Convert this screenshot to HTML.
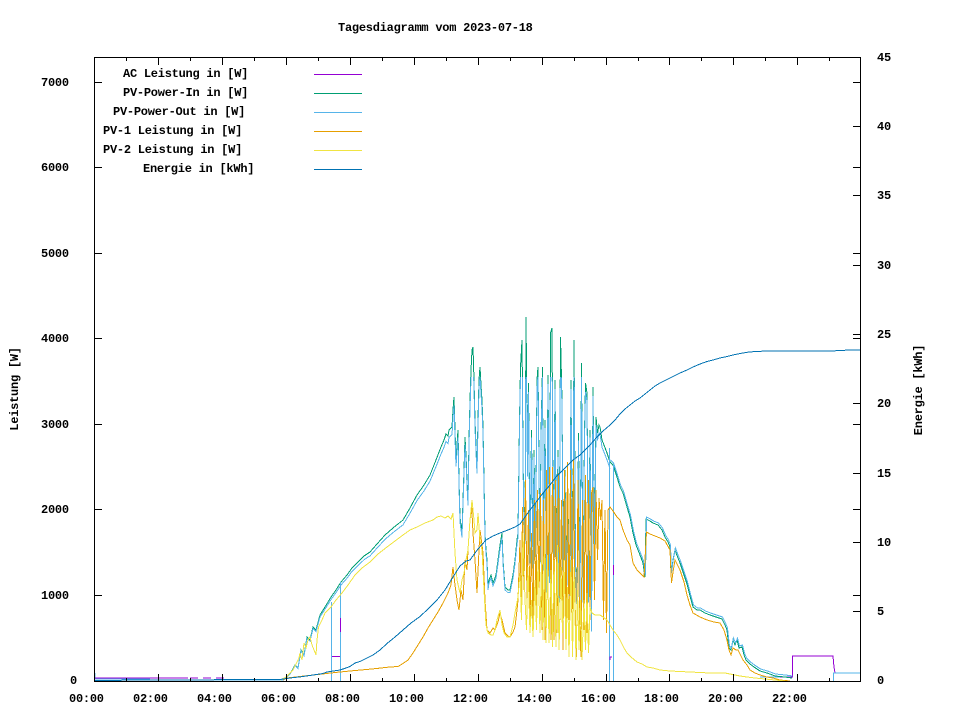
<!DOCTYPE html>
<html><head><meta charset="utf-8"><style>
html,body{margin:0;padding:0;background:#fff;}
svg{display:block;}
text{font-family:"Liberation Mono","DejaVu Sans Mono",monospace;font-weight:bold;font-size:12px;letter-spacing:-0.25px;fill:#000;}
</style></head><body>
<svg width="960" height="720" viewBox="0 0 960 720" xmlns="http://www.w3.org/2000/svg">
<rect width="960" height="720" fill="#fff"/>
<defs><clipPath id="cap"><rect x="94" y="377" width="767" height="305"/></clipPath></defs>
<g fill="none" stroke-width="1" shape-rendering="crispEdges">
<!-- night -->
<polyline stroke="#56b4e9" points="95,673 95,679 150,679"/>
<polyline stroke="#9400d3" points="95,678 188,678"/>
<polyline stroke="#9400d3" stroke-dasharray="8,5" points="190,678 224,678"/>
<polyline stroke="#56b4e9" points="148,680 284,680"/>
<!-- AC night step -->
<polyline stroke="#56b4e9" points="760,677 792,677"/>
<polyline stroke="#9400d3" points="780,677 792.5,677 792.5,656 833,656 834,667 835,673 848,673"/>
<polyline stroke="#56b4e9" points="833.5,681 833.5,673 860,673"/>
<!-- PV-Power-In green A -->
<polyline stroke="#009e73" points="280,680 286,678 290,674 295,665 298,668 301,650 304,655 307,637 310,640 313,627 316,630 320,615 325,607 331,597 336,590 341,582 347,575 352,568 358,562 364,556 370,552 377,544 385,535 393,528 403,520 410,508 417,495 424,485 430,475 436,460 441,447 444,440 446,434 448,436 449,430 451,428 452,427 453,410 454,397 455,430 456,460 457,445 458,430 459,480 460,517 461,525 462,533 463,500 464,470 465,437 466,455 467,480 468,500 469,440 470,400 471,370 472,350 473,347 474,380 475,420 476,445 477,467 478,420 479,380 480,367 481,385 482,400 483,427 484,480 485,533 486,550 487,560 488,587 489,580 491,575 493,583 495,578 496,575 498,560 500,545 502,533 503,560 505,587 508,590 510,590 512,580 513,575 515,560 517,540 518,533 519.5,420 520.5,367 522,340 523.5,500 525,540 526,317 527.5,470 528.5,383 530,560 531.5,430 533,565 534,450 535.5,553 537,380 538,367 540,560 541,433 542.5,367 543.5,567 545,420 546.5,590 548,375 549.5,580 550.5,333 552,328 553.5,590 555,380 556.5,567 558,450 559,600 560.5,337 562,400 563.5,600 565,470 566.5,600 568,500 569.5,610 571,380 572.5,600 574,340 575.5,560 577,610 578.5,433 580,600 581.5,363 583,600 584.5,433 585.5,383 587,393 588.5,600 590,430 591.5,630 593,387 594.5,560 596,417 597.5,433 599,425 600,427 601,433 602,440 604,445 607,453 610,462"/>
<!-- green B -->
<polyline stroke="#009e73" points="610,462 613,465 617,477 620,487 623,493 627,507 630,517 633,533 636,545 640,555 643,563 645,577 646,519 650,521 653,523 658,525 662,530 665,537 668,542 670,547 671,575 673,560 675,550 678,558 680,563 684,575 687,584 690,596 693,607 697,610 700,610 705,613 710,615 716,617 722,619 725,625 727,630 729,648 731,650 733,640 735,645 737,640 739,648 742,647 744,655 746,660 750,664 754,667 760,671 767,673 775,676 785,677 792,678"/>
<!-- PV-Power-Out blue -->
<g clip-path="url(#cap)"><polyline stroke="#56b4e9" transform="matrix(1 0 0 0.97 0 20.43)" points="280,680 286,678 290,674 295,665 298,668 301,650 304,655 307,637 310,640 313,627 316,630 320,615 325,607 331,597 336,590 341,582 347,575 352,568 358,562 364,556 370,552 377,544 385,535 393,528 403,520 410,508 417,495 424,485 430,475 436,460 441,447 444,440 446,434 448,436 449,430 451,428 452,427 453,410 454,397 455,430 456,460 457,445 458,430 459,480 460,517 461,525 462,533 463,500 464,470 465,437 466,455 467,480 468,500 469,440 470,400 471,370 472,350 473,347 474,380 475,420 476,445 477,467 478,420 479,380 480,367 481,385 482,400 483,427 484,480 485,533 486,550 487,560 488,587 489,580 491,575 493,583 495,578 496,575 498,560 500,545 502,533 503,560 505,587 508,590 510,590 512,580 513,575 515,560 517,540 518,533 519.5,420 520.5,367 522,340 523.5,500 525,540 526,317 527.5,470 528.5,383 530,560 531.5,430 533,565 534,450 535.5,553 537,380 538,367 540,560 541,433 542.5,367 543.5,567 545,420 546.5,590 548,375 549.5,580 550.5,333 552,328 553.5,590 555,380 556.5,567 558,450 559,600 560.5,337 562,400 563.5,600 565,470 566.5,600 568,500 569.5,610 571,380 572.5,600 574,340 575.5,560 577,610 578.5,433 580,600 581.5,363 583,600 584.5,433 585.5,383 587,393 588.5,600 590,430 591.5,630 593,387 594.5,560 596,417 597.5,433 599,425 600,427 601,433 602,440 604,445 607,453 610,462"/></g>
<polyline stroke="#56b4e9" transform="translate(0.5,-2)" points="610,462 613,465 617,477 620,487 623,493 627,507 630,517 633,533 636,545 640,555 643,563 645,577 646,519 650,521 653,523 658,525 662,530 665,537 668,542 670,547 671,575 673,560 675,550 678,558 680,563 684,575 687,584 690,596 693,607 697,610 700,610 705,613 710,615 716,617 722,619 725,625 727,630 729,648 731,650 733,640 735,645 737,640 739,648 742,647 744,655 746,660 750,664 754,667 760,671 767,673 775,676 785,677 792,678"/>
<polyline stroke="#56b4e9" points="331.5,681 331.5,602"/>
<polyline stroke="#56b4e9" points="340.5,681 340.5,582"/>
<polyline stroke="#56b4e9" points="609.5,681 609.5,448"/>
<polyline stroke="#56b4e9" points="613.5,681 613.5,465"/>
<!-- AC purple bits -->
<polyline stroke="#9400d3" points="332,656.5 340,656.5"/>
<polyline stroke="#9400d3" points="340.5,618 340.5,632"/>
<polyline stroke="#9400d3" points="610,660 610,657 612,657"/>
<polyline stroke="#9400d3" points="613.5,565 613.5,575"/>
<!-- PV-1 orange -->
<polyline stroke="#e69f00" points="283,680 287,678 300,676.5 318,674.5 335,672.5 350,671 372,669 390,667 398,666.5 403,663.5 408,660 413,653 418,645 423,637 428,628 433,620 438,612 443,603 448,593 451,585 453,567 455,585 457,600 459,610 461,590 463,600 465,560 467,570 468,550 470,520 471.7,507 473,533 475,560 477,593 479,550 480,530 482,545 483,553 485,600 487,630 490,633 493,628 495,630 498,622 500,613 502,620 505,633 508,636 510,637 513,632 515,627 517,610 518,600 520,540 521.5,610 522.5,507 524,590 525.5,480 527,600 528.5,510 530,620 531.5,533 533,630 534.5,500 536,620 537.5,490 539,600 540.5,493 542,630 543.5,500 545,640 546.5,470 548,600 549.5,467 551,640 552.5,467 554,640 555.5,480 557,633 558.5,473 560,620 561.5,500 563,650 564.5,470 566,650 567.5,462 569,620 570.5,470 572,640 573.5,460 575,600 576.5,657 578,480 579.5,620 581,657 582.5,500 584,630 585.5,475 587,633 588.5,480 590,620 591.5,493 593,487 594.5,600 596,490 597.5,560 599,498 600.5,520 602,500 603.5,620 605,510 606.5,633 608,510 610,507 613,511 617,517 620,520 623,530 627,540 630,545 633,563 637,570 640,573 644,577 646.5,532 650,534 655,536 660,538 665,541 670,550 671.5,583 673,572 675,560 678,566 680,570 684,582 687,595 690,605 693,613 700,617 707,620 714,622 720,623 724,630 727,640 729,650 731,655 733,648 736,650 738,650 741,656 743,660 747,665 750,670 755,673 760,675 767,677 773,678 780,680 790,681"/>
<!-- PV-2 yellow -->
<polyline stroke="#f0e442" points="280,680 286,677 290,673 293,670 296,664 299,658 300,653 302,660 304,643 306,648 308,640 310,637 312,645 314,650 316,655 317,640 318.5,627 322,620 325,613 331,607 336,600 342,593 348,585 355,575 362,568 370,562 378,554 387,547 395,541 403,535 410,530 417,527 425,523 433,520 437,517 441,516 445,518 448,516 451,519 453,513 455,553 457,580 460,593 462,580 464,573 466,560 468,550 470,520 472,500 474,520 475,533 477,530 478,513 480,540 482,550 484,590 486,625 488,633 491,635 493,635 495,630 497,620 500,610 502,625 504,633 507,637 510,637 513,625 515,613 518,597 520,573 521.5,620 523,533 525,600 526.5,630 528,567 530,633 531.5,600 533,637 535,580 536.5,630 538,560 540,633 541.5,560 543,640 544.5,540 546,643 547.5,555 549,643 551,570 552.5,647 554,560 556,647 557.5,545 559,650 561,567 562.5,633 564,560 566,650 567.5,587 569,657 571,560 572.5,657 574,567 576,660 577.5,590 579,650 580.5,600 582,660 584,600 585.5,650 587,593 588.5,653 590,607 592,613 595,615 600,615 603,617 607,620 610,625 613,630 617,635 620,640 624,648 627,653 631,657 637,662 642,664 647,667 653,668 660,670 670,671 680,671.5 690,672 700,672.5 710,673 720,673 725,673 730,674 735,675 740,676 747,677 755,678 765,679 775,680 785,681"/>
<!-- Energie -->
<polyline stroke="#0072b2" points="95,680.5 148,680 280,679.5 290,678 303,676.5 313,675 323,673.5 327,672 340,670 346,668 350,666.5 355,663 360,661.5 367,658 373,655 380,650 387,643.5 395,637 403,630 411,623 420,616.5 428,609 437,600 445,590 453,577 460,566 466,561 470,560 478,549 486,540 493,536 500,533 508,530 515,527 520,524 525,517 530,510 537,501 543,493 550,485 556,477 560,473 567,466 573,460 580,455 585,450 590,445 597,437 603,431 610,425 615,420 620,414 625,409 630,405 635,401 640,398 645,394 650,390 655,386 660,383 665,380.5 670,378 675,375.5 680,373 687,370 693,367 700,364 707,361.5 713,360 720,358 727,356.5 733,355 740,353.5 747,352.3 755,351.5 763,351.2 780,351 800,351 843,350.7 846,350 860,350"/>
</g>
<!-- frame & ticks -->
<g stroke="#000" stroke-width="1" fill="none" shape-rendering="crispEdges">
<rect x="94.5" y="57.5" width="766" height="624"/>
<path d="M94.5,681V674 M158.5,681V674 M222.5,681V674 M286.5,681V674 M350.5,681V674 M414.5,681V674 M478.5,681V674 M542.5,681V674 M606.5,681V674 M669.5,681V674 M733.5,681V674 M797.5,681V674
M126.5,681V678 M190.5,681V678 M254.5,681V678 M318.5,681V678 M382.5,681V678 M446.5,681V678 M510.5,681V678 M574.5,681V678 M638.5,681V678 M701.5,681V678 M765.5,681V678 M829.5,681V678
M158.5,58V65 M222.5,58V65 M286.5,58V65 M350.5,58V65 M414.5,58V65 M478.5,58V65 M542.5,58V65 M606.5,58V65 M669.5,58V65 M733.5,58V65 M797.5,58V65
M126.5,58V61 M190.5,58V61 M254.5,58V61 M318.5,58V61 M382.5,58V61 M446.5,58V61 M510.5,58V61 M574.5,58V61 M638.5,58V61 M701.5,58V61 M765.5,58V61 M829.5,58V61
M95,595.5H102 M95,509.5H102 M95,424.5H102 M95,338.5H102 M95,253.5H102 M95,167.5H102 M95,82.5H102
M860,595.5H853 M860,509.5H853 M860,424.5H853 M860,338.5H853 M860,253.5H853 M860,167.5H853 M860,82.5H853
M860,611.5H853 M860,542.5H853 M860,473.5H853 M860,403.5H853 M860,334.5H853 M860,265.5H853 M860,195.5H853 M860,126.5H853"/>
</g>
<!-- legend lines -->
<g stroke-width="1" shape-rendering="crispEdges">
<line x1="314" y1="74.5" x2="362" y2="74.5" stroke="#9400d3"/>
<line x1="314" y1="93.5" x2="362" y2="93.5" stroke="#009e73"/>
<line x1="314" y1="112.5" x2="362" y2="112.5" stroke="#56b4e9"/>
<line x1="314" y1="131.5" x2="362" y2="131.5" stroke="#e69f00"/>
<line x1="314" y1="150.5" x2="362" y2="150.5" stroke="#f0e442"/>
<line x1="314" y1="169.5" x2="362" y2="169.5" stroke="#0072b2"/>
</g>
<text x="123" y="77">AC Leistung in [W]</text>
<text x="123" y="96">PV-Power-In in [W]</text>
<text x="113" y="115">PV-Power-Out in [W]</text>
<text x="103" y="134">PV-1 Leistung in [W]</text>
<text x="103" y="153">PV-2 Leistung in [W]</text>
<text x="143" y="172">Energie in [kWh]</text>
<!-- title -->
<text x="338" y="31">Tagesdiagramm vom 2023-07-18</text>
<!-- left labels -->
<text x="70" y="684">0</text>
<text x="41" y="599">1000</text>
<text x="41" y="513">2000</text>
<text x="41" y="428">3000</text>
<text x="41" y="342">4000</text>
<text x="41" y="257">5000</text>
<text x="41" y="171">6000</text>
<text x="41" y="86">7000</text>
<!-- right labels -->
<text x="877" y="684">0</text>
<text x="877" y="615">5</text>
<text x="877" y="546">10</text>
<text x="877" y="477">15</text>
<text x="877" y="407">20</text>
<text x="877" y="338">25</text>
<text x="877" y="269">30</text>
<text x="877" y="199">35</text>
<text x="877" y="130">40</text>
<text x="877" y="61">45</text>
<!-- x labels -->
<text x="69" y="702">00:00</text>
<text x="133" y="702">02:00</text>
<text x="197" y="702">04:00</text>
<text x="261" y="702">06:00</text>
<text x="325" y="702">08:00</text>
<text x="389" y="702">10:00</text>
<text x="453" y="702">12:00</text>
<text x="517" y="702">14:00</text>
<text x="581" y="702">16:00</text>
<text x="644" y="702">18:00</text>
<text x="708" y="702">20:00</text>
<text x="772" y="702">22:00</text>
<!-- axis titles -->
<text transform="translate(18,389) rotate(-90)" text-anchor="middle">Leistung [W]</text>
<text transform="translate(922,390) rotate(-90)" text-anchor="middle">Energie [kWh]</text>
</svg>
</body></html>
